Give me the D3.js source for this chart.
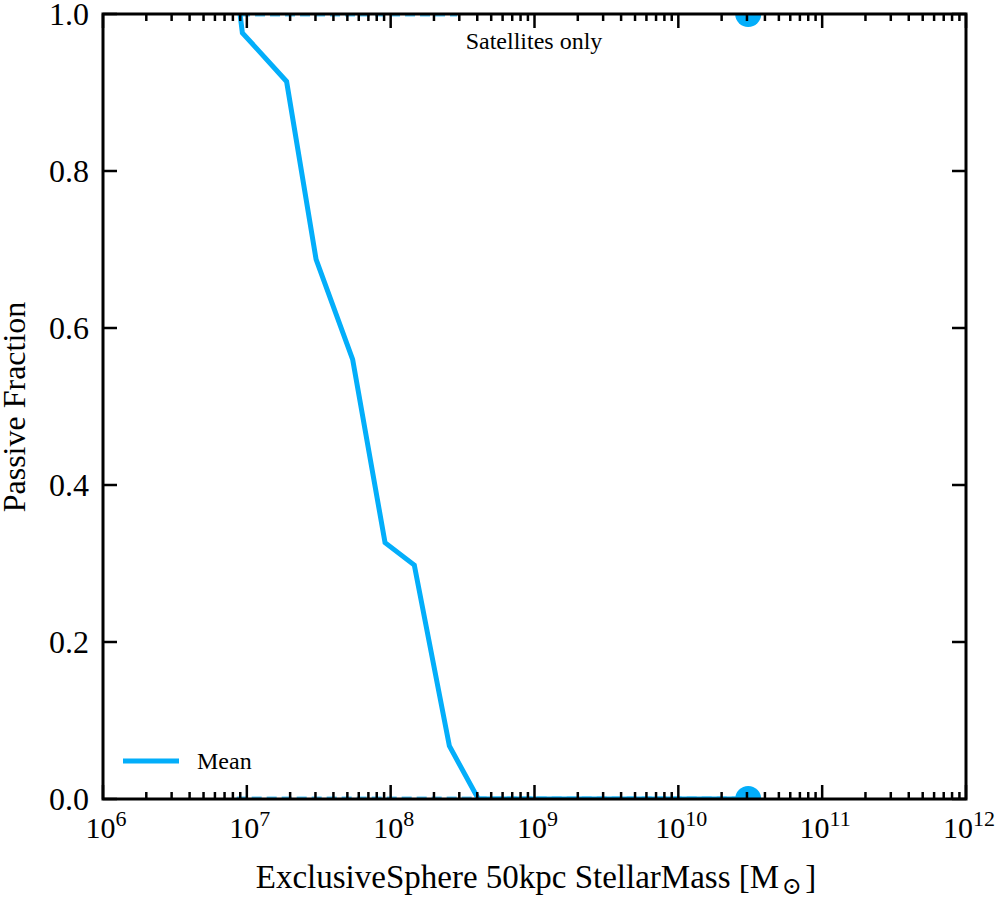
<!DOCTYPE html>
<html><head><meta charset="utf-8">
<script src="https://cdn.jsdelivr.net/npm/d3@7"></script>
<style>body{margin:0;background:#fff;} text{font-family:'Liberation Serif','Times New Roman','DejaVu Serif',serif;}</style>
</head><body><svg id="c" width="996" height="900"></svg>
<script>
// Data
const meanMass = [8.97e6, 9.31e6, 1.89e7, 3.03e7, 5.44e7, 9.14e7, 1.46e8, 2.56e8, 4.07e8, 3.06e10];
const meanFrac = [1.0, 0.976, 0.914, 0.6875, 0.560, 0.3265, 0.298, 0.0675, 0.0, 0.0];
const upperMass = [8.97e6, 2.9e8];
const upperFrac = [1.0, 1.0];
const lowerMass = [8.5e6, 3.06e10];
const lowerFrac = [0.0, 0.0];
const pointMass = [3.06e10, 3.06e10];
const pointFrac = [1.0, 0.0];
const xTickExps = [6, 7, 8, 9, 10, 11, 12];
const yTicks = [0.0, 0.2, 0.4, 0.6, 0.8, 1.0];
const color = "#03aefa";
const FONT = "Liberation Serif, Times New Roman, DejaVu Serif, serif";

const svg = d3.select("#c");
const L = 103, T = 14, R = 966, B = 799;
const x = d3.scaleLog().domain([1e6, 1e12]).range([L, R]);
const y = d3.scaleLinear().domain([0, 1]).range([B, T]);

svg.append("defs").append("clipPath").attr("id", "clip")
  .append("rect").attr("x", L).attr("y", T).attr("width", R - L).attr("height", B - T);

const g = svg.append("g").attr("clip-path", "url(#clip)");
const line = d3.line().x(d => x(d[0])).y(d => y(d[1]));

g.append("path").datum(lowerMass.map((m, i) => [m, lowerFrac[i]]))
  .attr("d", line).attr("fill", "none").attr("stroke", color).attr("stroke-width", 5)
  .attr("stroke-dasharray", "10,5").attr("opacity", 0.7);
g.append("path").datum(upperMass.map((m, i) => [m, upperFrac[i]]))
  .attr("d", line).attr("fill", "none").attr("stroke", color).attr("stroke-width", 5)
  .attr("stroke-dasharray", "10,5").attr("opacity", 0.7);
g.append("path").datum(meanMass.map((m, i) => [m, meanFrac[i]]))
  .attr("d", line).attr("fill", "none").attr("stroke", color).attr("stroke-width", 5)
  .attr("stroke-linejoin", "miter");
g.selectAll("circle.p").data(pointMass.map((m, i) => [m, pointFrac[i]])).enter()
  .append("circle").attr("cx", d => x(d[0])).attr("cy", d => y(d[1])).attr("r", 13).attr("fill", color);

// Ticks
const minor = [];
for (let e = 6; e < 12; e++) for (let k = 2; k <= 9; k++) minor.push(k * Math.pow(10, e));
const majors = xTickExps.map(e => Math.pow(10, e));
const tk = svg.append("g").attr("stroke", "#000").attr("stroke-width", 2.5);
majors.forEach(v => {
  tk.append("line").attr("x1", x(v)).attr("x2", x(v)).attr("y1", B).attr("y2", B - 14);
  tk.append("line").attr("x1", x(v)).attr("x2", x(v)).attr("y1", T).attr("y2", T + 14);
});
minor.forEach(v => {
  tk.append("line").attr("x1", x(v)).attr("x2", x(v)).attr("y1", B).attr("y2", B - 7);
  tk.append("line").attr("x1", x(v)).attr("x2", x(v)).attr("y1", T).attr("y2", T + 7);
});
yTicks.forEach(v => {
  tk.append("line").attr("x1", L).attr("x2", L + 14).attr("y1", y(v)).attr("y2", y(v));
  tk.append("line").attr("x1", R).attr("x2", R - 14).attr("y1", y(v)).attr("y2", y(v));
});
svg.append("rect").attr("x", L).attr("y", T).attr("width", R - L).attr("height", B - T)
  .attr("fill", "none").attr("stroke", "#000").attr("stroke-width", 3);

// Tick labels
yTicks.forEach(v => {
  svg.append("text").attr("font-family", FONT).attr("x", L - 14).attr("y", y(v) + 11).attr("text-anchor", "end")
    .attr("font-size", 32).text(v.toFixed(1));
});
xTickExps.forEach(e => {
  const t = svg.append("text").attr("font-family", FONT).attr("x", x(Math.pow(10, e)) + 3).attr("y", B + 39)
    .attr("text-anchor", "middle").attr("font-size", 30);
  t.append("tspan").text("10");
  t.append("tspan").attr("font-size", 22).attr("dy", -12).text(e);
});

// Axis titles
const xt = svg.append("text").attr("font-family", FONT).attr("x", 536).attr("y", 888).attr("text-anchor", "middle").attr("font-size", 33);
xt.append("tspan").text("ExclusiveSphere 50kpc StellarMass [M");
xt.append("tspan").attr("font-size", 24).attr("dy", 6).attr("dx", 3).text("⊙");
xt.append("tspan").attr("dy", -6).attr("dx", 3).text("]");
svg.append("text").attr("font-family", FONT).attr("transform", "translate(25,407) rotate(-90)").attr("text-anchor", "middle")
  .attr("font-size", 32).text("Passive Fraction");

// Annotation
svg.append("text").attr("font-family", FONT).attr("x", 534).attr("y", 49).attr("text-anchor", "middle").attr("font-size", 24).text("Satellites only");

// Legend
svg.append("line").attr("x1", 123).attr("x2", 179).attr("y1", 761).attr("y2", 761)
  .attr("stroke", color).attr("stroke-width", 5);
svg.append("text").attr("font-family", FONT).attr("x", 197).attr("y", 769).attr("font-size", 24).text("Mean");
</script></body></html>
